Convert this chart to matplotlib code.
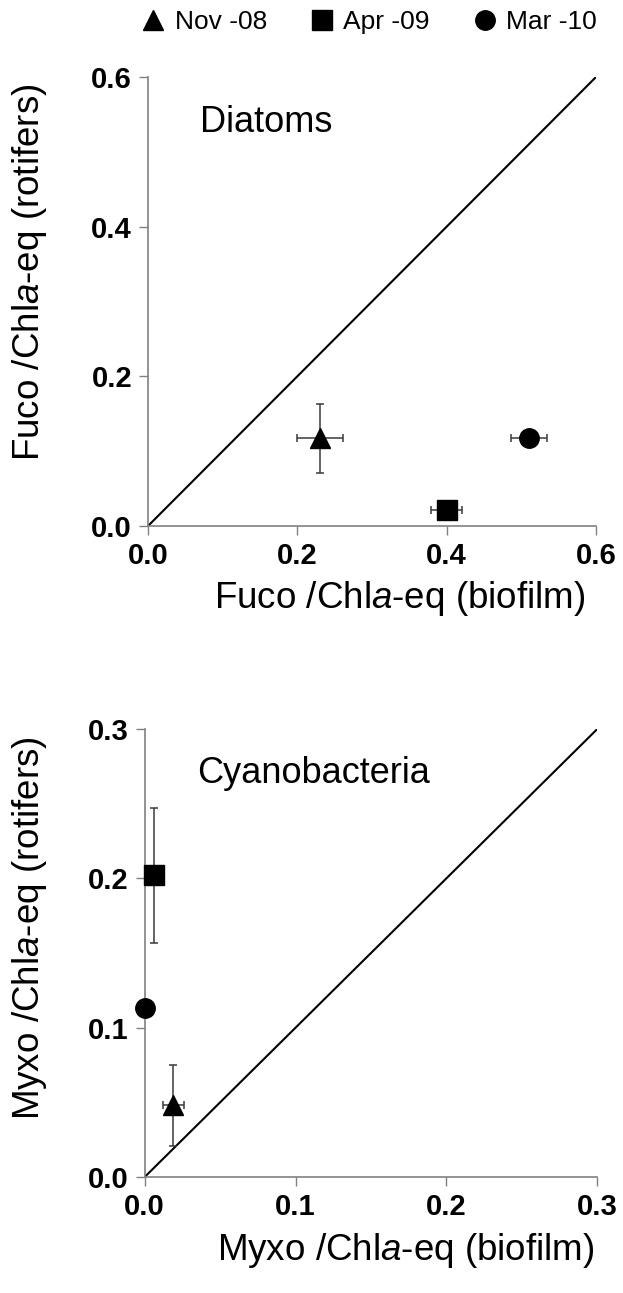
import matplotlib
matplotlib.use("Agg")
import matplotlib.pyplot as plt
from matplotlib.lines import Line2D

plt.rcParams['font.family'] = ['Liberation Sans', 'DejaVu Sans']
plt.rcParams['mathtext.fontset'] = 'custom'
plt.rcParams['mathtext.it'] = 'Liberation Sans:italic'
plt.rcParams['mathtext.rm'] = 'Liberation Sans'

# ---- data ----
dates = ["Nov -08", "Apr -09", "Mar -10"]
markers = ["^", "s", "o"]

# Diatoms (top panel)
fuco_biofilm = [0.23, 0.40, 0.51]
fuco_biofilm_err = [0.031, 0.021, 0.024]
fuco_rotifers = [0.117, 0.022, 0.117]
fuco_rotifers_err = [0.046, 0.008, 0.005]

# Cyanobacteria (bottom panel)
myxo_biofilm = [0.019, 0.006, 0.0]
myxo_biofilm_err = [0.007, 0.002, 0.0]
myxo_rotifers = [0.048, 0.202, 0.113]
myxo_rotifers_err = [0.027, 0.045, 0.0]

top_ticks = [0.0, 0.2, 0.4, 0.6]
bot_ticks = [0.0, 0.1, 0.2, 0.3]

W, H = 623, 1293
fig = plt.figure(figsize=(W / 100, H / 100), dpi=100)

SPINE = '#808080'
TICKFS = 21
LABFS = 26.5


def px_axes(l, r, b, t):
    return fig.add_axes([l / W, 1 - b / H, (r - l) / W, (b - t) / H])


def style(ax, ticks):
    lim = ticks[-1]
    ax.set_xlim(0, lim)
    ax.set_ylim(0, lim)
    ax.set_xticks(ticks)
    ax.set_yticks(ticks)
    ax.set_xticklabels([f"{t:.1f}" for t in ticks])
    ax.set_yticklabels([f"{t:.1f}" for t in ticks])
    for s in ['top', 'right']:
        ax.spines[s].set_visible(False)
    for s in ['left', 'bottom']:
        ax.spines[s].set_color(SPINE)
        ax.spines[s].set_linewidth(1.2)
    ax.tick_params(direction='out', length=6.5, width=1.0, color=SPINE,
                   labelsize=TICKFS, pad=5)
    for lab in ax.get_xticklabels() + ax.get_yticklabels():
        lab.set_fontweight('bold')
    ax.plot([0, lim], [0, lim], color='black', lw=1.5, zorder=2)


def draw(ax, xs, xe, ys, ye):
    for x, dx, y, dy, m in zip(xs, xe, ys, ye, markers):
        ax.errorbar(x, y, xerr=dx, yerr=dy, fmt='none', ecolor='#3a3a3a',
                    elinewidth=1.1, capsize=3, capthick=1.1, zorder=3,
                    clip_on=False)
        ax.plot(x, y, marker=m, color='black', markersize=14, ls='none',
                zorder=4, clip_on=False)


ax1 = px_axes(148, 596, 526, 77)
style(ax1, top_ticks)
draw(ax1, fuco_biofilm, fuco_biofilm_err, fuco_rotifers, fuco_rotifers_err)
ax1.text(0.07, 0.527, "Diatoms", fontsize=26, va='baseline', ha='left')

ax2 = px_axes(144.7, 597.3, 1177, 729)
style(ax2, bot_ticks)
draw(ax2, myxo_biofilm, myxo_biofilm_err, myxo_rotifers, myxo_rotifers_err)
ax2.text(0.035, 0.264, "Cyanobacteria", fontsize=26, va='baseline', ha='left')

# axis labels
fig.text(400 / W, 1 - 598 / H, "Fuco /Chl$\\it{a}$-eq (biofilm)", fontsize=LABFS,
         ha='center', va='center')
fig.text(30 / W, 1 - 272 / H, "Fuco /Chl$\\it{a}$-eq (rotifers)", fontsize=LABFS,
         ha='center', va='center', rotation=90)
fig.text(406 / W, 1 - 1251 / H, "Myxo /Chl$\\it{a}$-eq (biofilm)", fontsize=LABFS,
         ha='center', va='center')
fig.text(30 / W, 1 - 928 / H, "Myxo /Chl$\\it{a}$-eq (rotifers)", fontsize=LABFS,
         ha='center', va='center', rotation=90)

handles = [Line2D([], [], marker=m, color='black', ls='none', markersize=14)
           for m in markers]
fig.legend(handles, dates, loc='center', bbox_to_anchor=(370 / W, 1 - 22 / H),
           ncol=3, frameon=False, fontsize=19, handlelength=0.8,
           handletextpad=0.4, columnspacing=1.7, borderpad=0, borderaxespad=0)

fig.savefig("out.png", dpi=100)
